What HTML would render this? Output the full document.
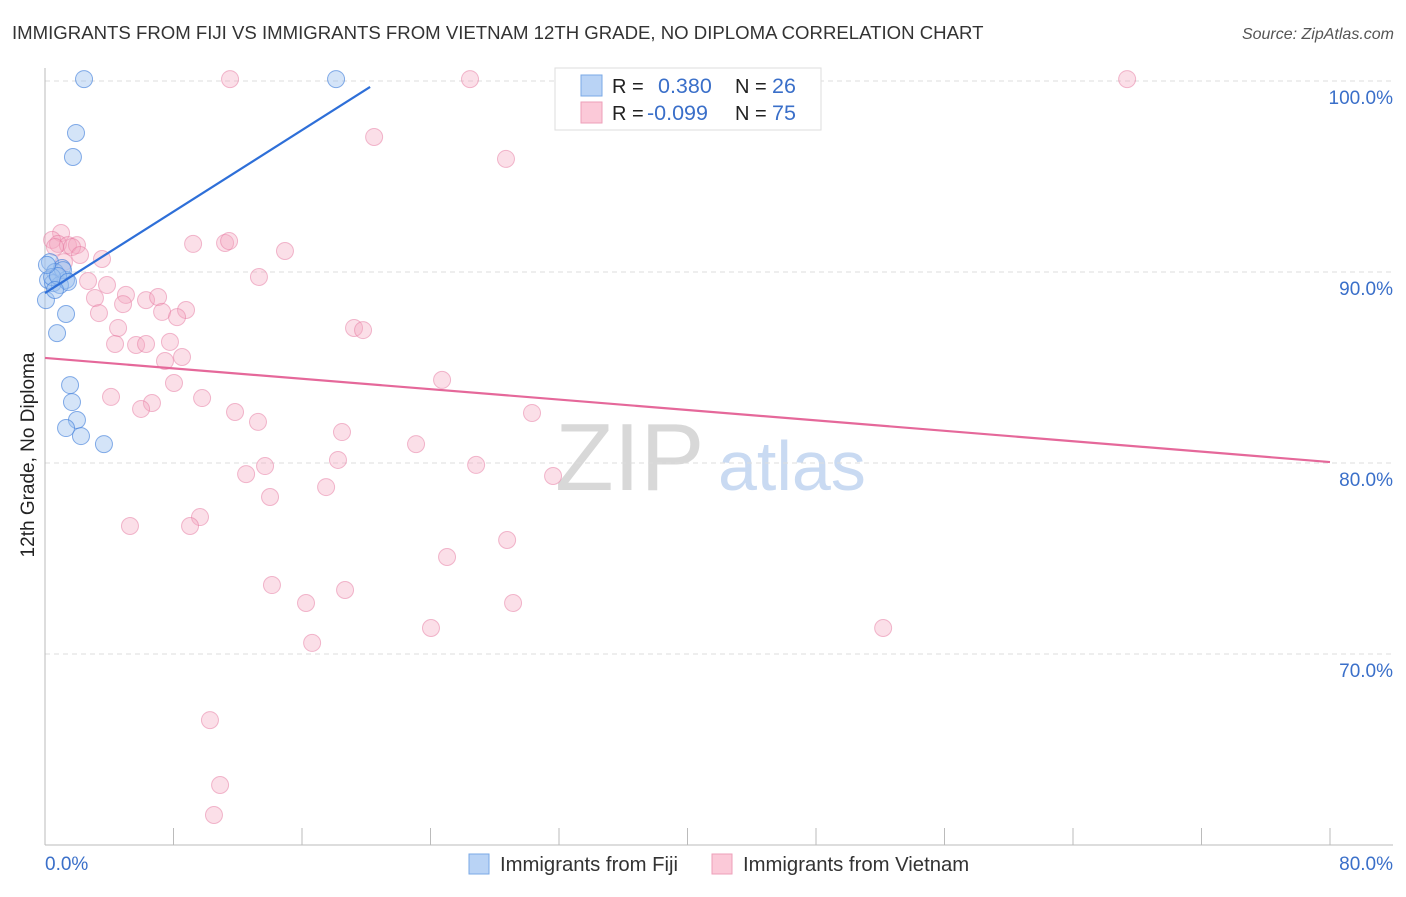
<!DOCTYPE html>
<html><head><meta charset="utf-8"><style>
body{margin:0;background:#fff;font-family:"Liberation Sans",sans-serif;}
svg text{font-family:"Liberation Sans",sans-serif;}
</style></head><body>
<svg id="chart" width="1406" height="892" viewBox="0 0 1406 892">
<text x="12" y="39" font-size="18.6" fill="#333">IMMIGRANTS FROM FIJI VS IMMIGRANTS FROM VIETNAM 12TH GRADE, NO DIPLOMA CORRELATION CHART</text>
<text x="1394" y="39" font-size="16" fill="#555" font-style="italic" text-anchor="end">Source: ZipAtlas.com</text>
<text x="555" y="490" font-size="96" fill="#d8d8d8" font-family="Liberation Serif">ZIP</text>
<text x="718" y="490" font-size="70" fill="#c9daf2">atlas</text>
<g id="grid"></g>
<g id="axes"></g>
<g id="marks"></g>
<text transform="translate(34,455) rotate(-90)" font-size="19" fill="#222" text-anchor="middle">12th Grade, No Diploma</text>
<g>
<rect x="555" y="68" width="266" height="62" fill="#fff" stroke="#ddd"/>
<rect x="581" y="75" width="21" height="21" fill="#b9d3f5" stroke="#7aa8e6"/>
<rect x="581" y="102" width="21" height="21" fill="#fbc9d8" stroke="#ee9fb9"/>
<text x="612" y="93" font-size="20" fill="#222">R =</text>
<text x="658" y="93" font-size="21.5" fill="#3a6fc9">0.380</text>
<text x="735" y="93" font-size="20" fill="#222">N =</text>
<text x="772" y="93" font-size="21.5" fill="#3a6fc9">26</text>
<text x="612" y="120" font-size="20" fill="#222">R =</text>
<text x="647" y="120" font-size="21.5" fill="#3a6fc9">-0.099</text>
<text x="735" y="120" font-size="20" fill="#222">N =</text>
<text x="772" y="120" font-size="21.5" fill="#3a6fc9">75</text>
</g>
<g>
<rect x="469" y="854" width="20" height="20" fill="#b9d3f5" stroke="#7aa8e6"/>
<text x="500" y="871" font-size="20.3" fill="#333">Immigrants from Fiji</text>
<rect x="712" y="854" width="20" height="20" fill="#fbc9d8" stroke="#ee9fb9"/>
<text x="743" y="871" font-size="20.3" fill="#333">Immigrants from Vietnam</text>
</g>
</svg>
<script>
const yTicks=[100,90,80,70];
const yTickLabels=["100.0%","90.0%","80.0%","70.0%"];
const xTicks=[0,8,16,24,32,40,48,56,64,72,80];
const fijiX=[2.43,18.12,1.93,1.74,0.31,1.06,0.62,0.19,0.5,1.31,0.93,0.06,1.31,0.75,1.56,1.68,1.99,1.31,2.24,3.67,1.12,0.44,0.81,0.12,1.43,0.62];
const fijiY=[100.1,100.1,97.28,96.02,90.52,90.21,90.0,89.58,89.42,89.58,89.32,88.53,87.8,86.8,84.08,83.19,82.25,81.83,81.41,80.99,90.1,89.74,89.79,90.37,89.48,89.06];
const vietX=[11.52,26.46,67.37,43.15,20.49,28.7,1.0,0.44,0.81,1.43,1.99,1.68,0.62,2.18,1.18,3.55,9.22,11.21,11.46,14.94,13.32,2.68,3.86,3.11,5.04,4.86,6.29,7.04,8.78,7.29,8.22,3.36,4.55,19.24,19.8,4.36,5.67,6.29,7.78,8.53,7.47,8.03,24.72,4.11,6.66,5.98,9.78,11.83,13.26,30.32,18.49,23.1,18.24,26.84,13.7,12.52,31.63,17.5,14.01,9.65,5.29,9.03,28.77,25.03,14.13,18.68,16.25,29.14,24.03,52.18,16.63,10.27,10.9,10.52];
const vietY=[100.1,100.1,100.1,100.1,97.07,95.92,92.04,91.68,91.47,91.41,91.41,91.31,91.31,90.89,90.52,90.68,91.47,91.52,91.62,91.1,89.74,89.53,89.32,88.64,88.8,88.32,88.53,88.69,88.01,87.91,87.64,87.85,87.07,87.07,86.96,86.23,86.18,86.23,86.34,85.55,85.34,84.19,84.35,83.46,83.14,82.83,83.4,82.67,82.15,82.62,81.62,80.99,80.16,79.9,79.84,79.42,79.32,78.74,78.22,77.17,76.7,76.7,75.97,75.08,73.61,73.35,72.67,72.67,71.36,71.36,70.58,66.54,63.14,61.57];
const fijiTrendX=[0,20.24];
const fijiTrendY=[88.9,99.69];
const vietTrendX=[0,80];
const vietTrendY=[85.5,80.05];
const X=v=>45+v*(1285/80);
const Y=v=>81+(100-v)*19.1;
const NS="http://www.w3.org/2000/svg";
function mk(tag,attrs,parent){const e=document.createElementNS(NS,tag);for(const k in attrs)e.setAttribute(k,attrs[k]);parent.appendChild(e);return e;}
const grid=document.getElementById('grid'),axes=document.getElementById('axes'),marks=document.getElementById('marks');
yTicks.forEach((t,i)=>{
 const l=mk('line',{x1:45,x2:1393,y1:Y(t),y2:Y(t),stroke:'#ddd','stroke-dasharray':'5,4'},grid);
 
 
 const tx=mk('text',{x:1393,y:Y(t)+23,'font-size':19,fill:'#3a6fc9','text-anchor':'end'},axes);
 tx.textContent=yTickLabels[i];
 
 
});
const yax=mk('line',{x1:45,x2:45,y1:68,y2:845,stroke:'#bbb'},axes);


const xax=mk('line',{x1:45,x2:1393,y1:845,y2:845,stroke:'#bbb'},axes);


xTicks.forEach(t=>{
 const l=mk('line',{x1:X(t),x2:X(t),y1:828,y2:845,stroke:'#bbb'},axes);
 
 
});
const xl0=mk('text',{x:45,y:870,'font-size':19,fill:'#3a6fc9'},axes);xl0.textContent='0.0%';


const xl1=mk('text',{x:1393,y:870,'font-size':19,fill:'#3a6fc9','text-anchor':'end'},axes);xl1.textContent='80.0%';


vietX.forEach((v,i)=>{
 const c=mk('circle',{cx:X(v),cy:Y(vietY[i]),r:8.5,fill:'rgba(245,165,192,0.36)',stroke:'rgba(230,120,160,0.5)','stroke-width':1},marks);
 
 
});
fijiX.forEach((v,i)=>{
 const c=mk('circle',{cx:X(v),cy:Y(fijiY[i]),r:8.5,fill:'rgba(160,196,240,0.45)',stroke:'rgba(70,130,220,0.65)','stroke-width':1},marks);
 
 
});
const ft=mk('line',{x1:X(fijiTrendX[0]),y1:Y(fijiTrendY[0]),x2:X(fijiTrendX[1]),y2:Y(fijiTrendY[1]),stroke:'#2e6fd8','stroke-width':2.2},marks);


const vt=mk('line',{x1:X(vietTrendX[0]),y1:Y(vietTrendY[0]),x2:X(vietTrendX[1]),y2:Y(vietTrendY[1]),stroke:'#e5689a','stroke-width':2.2},marks);


</script>
</body></html>
